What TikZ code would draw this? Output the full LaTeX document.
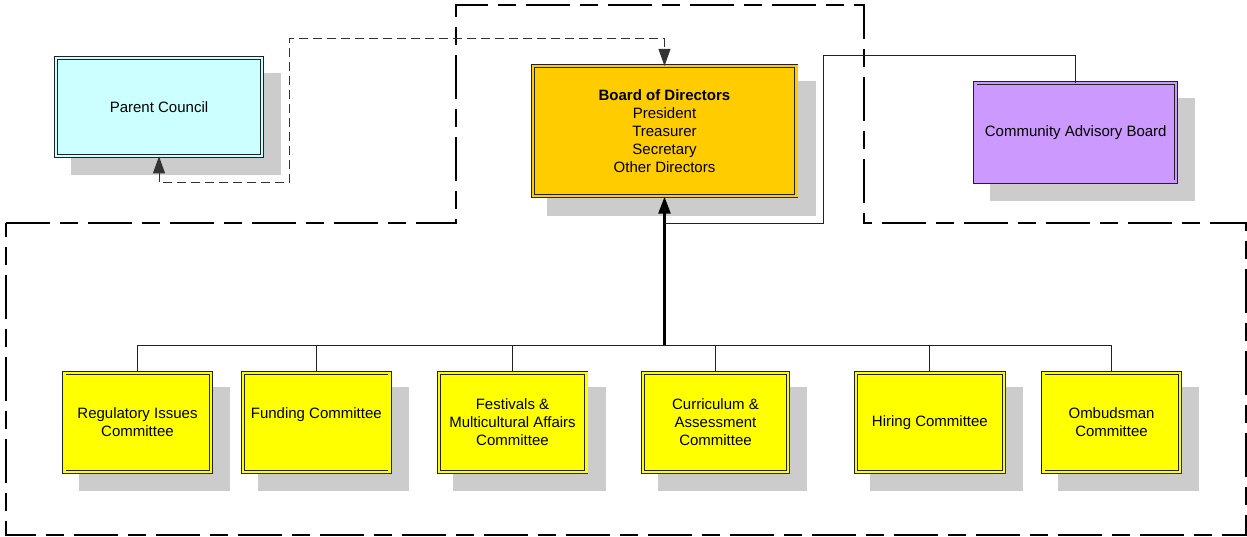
\documentclass[tikz,border=0pt]{standalone}
\usepackage{fontspec}
\setmainfont{Liberation Sans}
\usetikzlibrary{arrows.meta}
\pgfdeclarelayer{background}
\pgfsetlayers{background,main}
\definecolor{cyanbox}{HTML}{CCFFFF}
\definecolor{goldbox}{HTML}{FFCC00}
\definecolor{purplebox}{HTML}{CC99FF}
\definecolor{yellowbox}{HTML}{FFFF00}
\definecolor{shadowc}{HTML}{CCCCCC}
\definecolor{linec}{HTML}{222222}
\definecolor{dashc}{HTML}{333333}
\newcommand\boxshadow[1]{\fill[shadowc] ([shift={(15,19)}]#1.south west) rectangle ([shift={(19,15)}]#1.north east);}
\tikzset{
  orgbox/.style={draw=linec, line width=0.8pt, double=#1, double distance=2.4pt, fill=#1,
    inner sep=2pt, align=center, text=black, font=\fontsize{15}{18}\selectfont},
  thinline/.style={draw=linec, line width=1pt},
  thickline/.style={draw=black, line width=2.6pt},
  tip/.style={-{Triangle[length=17pt,width=12pt]}},
  smalldash/.style={draw=dashc, line width=1pt, dash pattern=on 9pt off 5pt},
  bigdash/.style={draw=black, line width=2pt, dash pattern=on 44pt off 10pt on 18pt off 10pt}
}
\begin{document}
\begin{tikzpicture}[x=1pt,y=-1pt]
\useasboundingbox (0,0) rectangle (1247,537);
% boxes
\node[orgbox=cyanbox, minimum width=206, minimum height=98] (pc) at (159,107) {Parent Council};
\node[orgbox=goldbox, minimum width=263.6, minimum height=130] (board) at (664.5,131.3)
  {\textbf{Board of Directors}\\President\\Treasurer\\Secretary\\Other Directors};
\node[orgbox=purplebox, minimum width=200.7, minimum height=98.7] (cab) at (1075.7,132.3) {Community Advisory Board};
\node[orgbox=yellowbox, minimum width=146.4, minimum height=99] (reg) at (137.5,422.2) {Regulatory Issues\\Committee};
\node[orgbox=yellowbox, minimum width=146.7, minimum height=99] (fund) at (316.3,422.2) {Funding Committee\\\phantom{Committee}};
\node[orgbox=yellowbox, minimum width=147.6, minimum height=99] (fest) at (512.5,422.2) {Festivals \&\\Multicultural Affairs\\Committee};
\node[orgbox=yellowbox, minimum width=145, minimum height=99] (curr) at (715.5,422.2) {Curriculum \&\\Assessment\\Committee};
\node[orgbox=yellowbox, minimum width=148.3, minimum height=99] (hire) at (929.9,422.2) {Hiring Committee};
\node[orgbox=yellowbox, minimum width=136.4, minimum height=99] (omb) at (1111.5,422.2) {Ombudsman\\Committee};
% shadows
\begin{pgfonlayer}{background}
\boxshadow{pc}
\boxshadow{board}
\boxshadow{cab}
\boxshadow{reg}
\boxshadow{fund}
\boxshadow{fest}
\boxshadow{curr}
\boxshadow{hire}
\boxshadow{omb}
\end{pgfonlayer}
% big dashed boundary
\coordinate (b1) at (6,223);
\coordinate (b2) at (456,223);
\coordinate (b3) at (456,5);
\coordinate (b4) at (864,5);
\coordinate (b5) at (864,223);
\coordinate (b6) at (1246,223);
\coordinate (b7) at (1246,535);
\coordinate (b8) at (6,535);
\draw[bigdash] (b1) -- (b2) -- (b3) -- (b4) -- (b5) -- (b6) -- (b7) -- (b8) -- cycle;
% committee bus
\coordinate (bus) at (664.5,345);
\foreach \c in {reg,fund,fest,curr,hire,omb}{
  \draw[thinline] (bus) -| (\c.north);
}
\draw[thickline, tip] (bus) -- (board.south);
% community advisory board link
\coordinate (cabT) at (823.3,56);
\coordinate (join) at (664.5,223.3);
\draw[thinline] (cab.north) |- (cabT) |- (join);
% parent council link
\coordinate (d1) at (289,183);
\coordinate (d2) at (289,39);
\draw[smalldash, {Triangle[length=17pt,width=12pt]}-{Triangle[length=17pt,width=12pt]}] (pc.south) |- (d1) -- (d2) -| (board.north);
\end{tikzpicture}
\end{document}
